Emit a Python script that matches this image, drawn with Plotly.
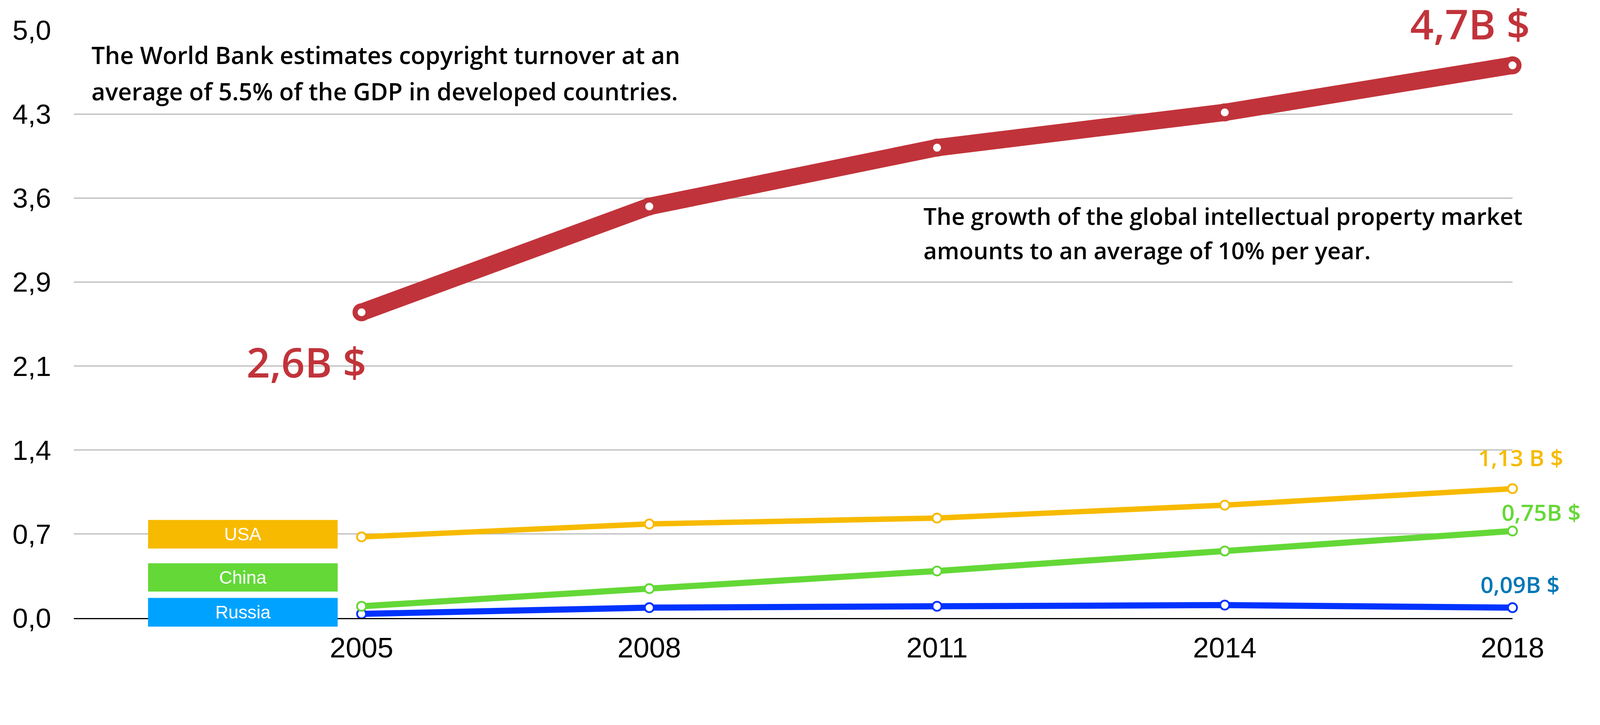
import numpy as np
import plotly.graph_objects as go

years = ["2005", "2008", "2011", "2014", "2018"]
world = [2.60, 3.50, 4.00, 4.30, 4.70]
usa = [0.69, 0.80, 0.85, 0.96, 1.10]
china = [0.10, 0.25, 0.40, 0.57, 0.74]
russia = [0.035, 0.088, 0.10, 0.11, 0.088]

y_tick_labels = ["0,0", "0,7", "1,4", "2,1", "2,9", "3,6", "4,3", "5,0"]
y_tick_vals = list(np.linspace(0, 5, len(y_tick_labels)))

RED = "#C1333A"
YELLOW = "#F7BA00"
GREEN = "#64D837"
BLUE = "#0033FF"
RUSSIA_BOX = "#00A2FF"
BLUE_TEXT = "#0077B6"

# the page is photographed with a slight magnification; sizes are given in
# photographed pixels and converted here to page pixels
D = 1.08


def p(v):
    return v / D


xs = list(range(len(years)))

fig = go.Figure()


def add_series(vals, color, width, msize, mline):
    fig.add_trace(go.Scatter(
        x=xs, y=vals, mode="lines+markers",
        line=dict(color=color, width=p(width)),
        marker=dict(size=p(msize), color="white", line=dict(color=color, width=p(mline))),
        cliponaxis=False, showlegend=False, hoverinfo="skip",
    ))


add_series(russia, BLUE, 17, 25, 5)
add_series(china, GREEN, 17, 25, 5)
add_series(usa, YELLOW, 15, 25, 5)
add_series(world, RED, 48, 36, 14)

# legend-like boxes on the left (paper coordinates: x -> (v+1)/5, y -> v/5)
boxes = [("USA", YELLOW, 0.591, 0.834), ("China", GREEN, 0.225, 0.466), ("Russia", RUSSIA_BOX, -0.073, 0.171)]
bx0, bx1 = -0.742, -0.083
for name, col, y0, y1 in boxes:
    fig.add_shape(type="rect", xref="paper", yref="paper",
                  x0=(bx0 + 1) / 5, x1=(bx1 + 1) / 5, y0=y0 / 5, y1=y1 / 5,
                  fillcolor=col, line=dict(width=0), layer="above")
    fig.add_annotation(x=(bx0 + bx1) / 2, y=(y0 + y1) / 2, xref="x", yref="y", text=name, showarrow=False,
                       font=dict(family="Liberation Sans, Arial", size=p(50), color="white"),
                       xanchor="center", yanchor="middle")

TXT = "Open Sans"
para1 = ["The World Bank estimates copyright turnover at an",
         "average of 5.5% of the GDP in developed countries."]
para2 = ["The growth of the global intellectual property market",
         "amounts to an average of 10% per year."]
for line, yv in zip(para1, [4.79, 4.48]):
    fig.add_annotation(x=-0.941, y=yv, xref="x", yref="y", showarrow=False, align="left",
                       xanchor="left", yanchor="middle", text=line,
                       font=dict(family=TXT, size=p(66), color="black", weight=600))
for line, yv in zip(para2, [3.42, 3.13]):
    fig.add_annotation(x=1.95, y=yv, xref="x", yref="y", showarrow=False, align="left",
                       xanchor="left", yanchor="middle", text=line,
                       font=dict(family=TXT, size=p(64.5), color="black", weight=600))

# value labels anchored on the data points, shifted in pixels
labels = [
    ("4,7B $", 4, world[4], -117, 116, RED, 114),
    ("2,6B $", 0, world[0], -152, -136, RED, 114),
    ("1,13 B $", 4, usa[4], 23, 87, YELLOW, 63),
    ("0,75B $", 4, china[4], 79, 52, GREEN, 63),
    ("0,09B $", 4, russia[4], 21, 65, BLUE_TEXT, 63),
]
for t, xi, yv, dx, dy, c, s in labels:
    fig.add_annotation(x=xi, y=yv, xref="x", yref="y", text=t, showarrow=False,
                       xanchor="center", yanchor="middle", xshift=p(dx), yshift=p(dy),
                       font=dict(family=TXT, size=p(s), color=c, weight=600))

W, H = 4081, 1703
L = round(p(204) - 8)
R = round(8 + W - p(4182))
T = 69
PLOT_H = 1553
B = H - T - PLOT_H

fig.update_layout(
    width=W, height=H,
    margin=dict(l=L, r=R, t=T, b=B, pad=0),
    paper_bgcolor="white", plot_bgcolor="white",
    xaxis=dict(range=[-1, 4], tickvals=xs, ticktext=years, showgrid=False, zeroline=False,
               showline=True, linecolor="black", linewidth=p(3), ticks="",
               tickfont=dict(family="Liberation Sans, Arial", size=p(79), color="black"),
               ticklabelstandoff=10),
    yaxis=dict(range=[0, 5], tickvals=y_tick_vals, ticktext=y_tick_labels, showgrid=True,
               gridcolor="#BDBDBD", gridwidth=p(3), zeroline=False, showline=False, ticks="",
               tickfont=dict(family="Liberation Sans, Arial", size=p(77), color="black"),
               ticklabelstandoff=round(p(62))),
)

fig.write_html("out.html")
